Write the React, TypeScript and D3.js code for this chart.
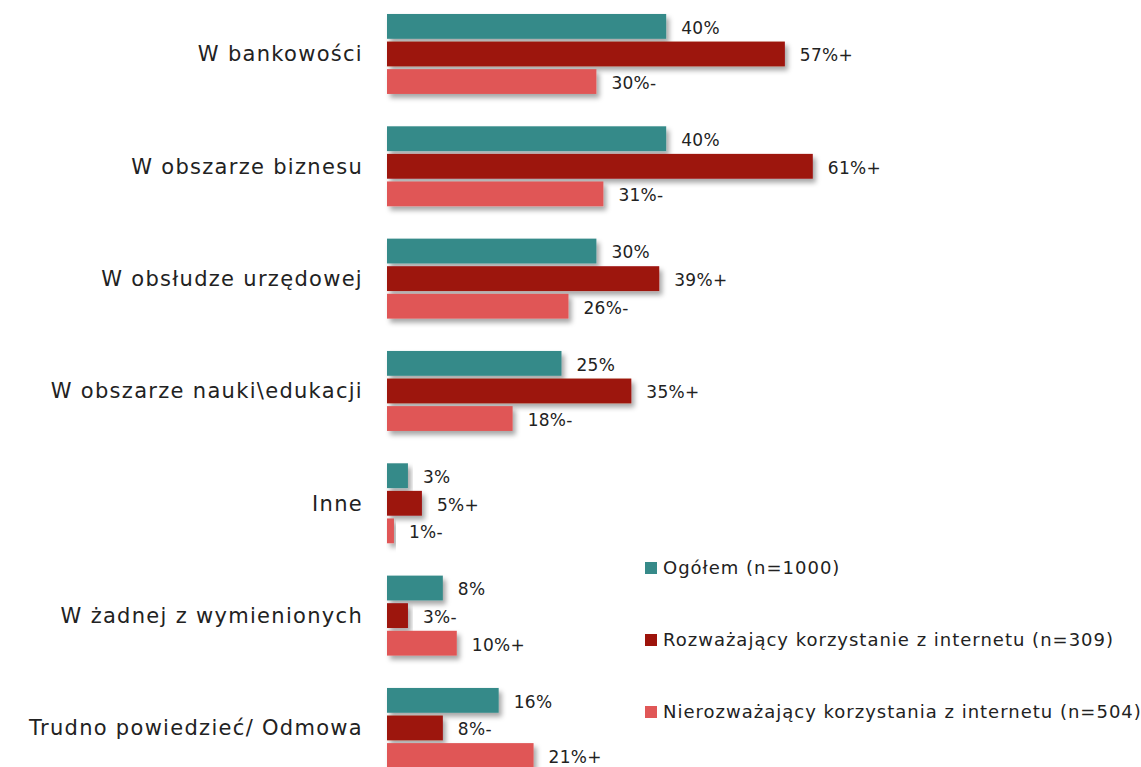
import React, { useEffect, useRef } from "react";
import * as d3 from "d3";

const categories = [
  "W bankowości",
  "W obszarze biznesu",
  "W obsłudze urzędowej",
  "W obszarze nauki\\edukacji",
  "Inne",
  "W żadnej z wymienionych",
  "Trudno powiedzieć/ Odmowa",
];

const seriesNames = [
  "Ogółem (n=1000)",
  "Rozważający korzystanie z internetu (n=309)",
  "Nierozważający korzystania z internetu (n=504)",
];

const ogolem = [40, 40, 30, 25, 3, 8, 16];
const rozwazajacy = [57, 61, 39, 35, 5, 3, 8];
const nierozwazajacy = [30, 31, 26, 18, 1, 10, 21];

// significance markers shown after the percentages
const ogolemMarks = ["", "", "", "", "", "", ""];
const rozwazajacyMarks = ["+", "+", "+", "+", "+", "-", "-"];
const nierozwazajacyMarks = ["-", "-", "-", "-", "-", "+", "+"];

const colors = ["#368a89", "#9d130b", "#e05757"];

const WIDTH = 1141;
const HEIGHT = 767;
const FONT = "'DejaVu Sans', sans-serif";

export default function App() {
  const ref = useRef<SVGSVGElement | null>(null);

  useEffect(() => {
    const values = [ogolem, rozwazajacy, nierozwazajacy];
    const marks = [ogolemMarks, rozwazajacyMarks, nierozwazajacyMarks];

    const root = d3.select(ref.current);
    root.selectAll("*").remove();
    root.attr("width", WIDTH).attr("height", HEIGHT);

    // soft drop shadow under the bars
    const defs = root.append("defs");
    const filter = defs
      .append("filter")
      .attr("id", "shadow")
      .attr("x", "-10%")
      .attr("y", "-30%")
      .attr("width", "130%")
      .attr("height", "190%");
    filter
      .append("feDropShadow")
      .attr("dx", 3)
      .attr("dy", 4)
      .attr("stdDeviation", 2.5)
      .attr("flood-color", "#000")
      .attr("flood-opacity", 0.35);

    const x = d3.scaleLinear().domain([0, 100]).range([387, 1085]);

    const y = d3
      .scaleBand()
      .domain(categories)
      .range([-2.2, 784.1])
      .paddingInner(0.288)
      .paddingOuter(0.144);

    const ySeries = d3
      .scaleBand()
      .domain(seriesNames)
      .range([0, y.bandwidth()])
      .paddingInner(0.1);

    const rows = categories.map((c, i) => ({
      category: c,
      bars: seriesNames.map((s, k) => ({
        series: s,
        k,
        value: values[k][i],
        label: `${values[k][i]}%${marks[k][i]}`,
      })),
    }));

    const group = root
      .selectAll(".group")
      .data(rows)
      .enter()
      .append("g")
      .attr("class", "group")
      .attr("transform", (d) => `translate(0,${y(d.category)})`);

    // Category labels
    group
      .append("text")
      .attr("x", 363)
      .attr("y", y.bandwidth() / 2)
      .attr("dy", "0.35em")
      .attr("text-anchor", "end")
      .style("font-family", FONT)
      .style("font-size", "21px")
      .style("letter-spacing", "1.3px")
      .style("fill", "#222")
      .text((d) => d.category);

    // Bars
    group
      .selectAll(".bar")
      .data((d) => d.bars)
      .enter()
      .append("rect")
      .attr("class", "bar")
      .attr("x", x(0))
      .attr("y", (d) => ySeries(d.series) ?? 0)
      .attr("width", (d) => x(d.value) - x(0))
      .attr("height", ySeries.bandwidth())
      .attr("fill", (d) => colors[d.k])
      .attr("filter", "url(#shadow)");

    // Value labels
    group
      .selectAll(".val")
      .data((d) => d.bars)
      .enter()
      .append("text")
      .attr("class", "val")
      .attr("x", (d) => x(d.value) + 15)
      .attr("y", (d) => (ySeries(d.series) ?? 0) + ySeries.bandwidth() / 2 + 1.5)
      .attr("dy", "0.35em")
      .style("font-family", FONT)
      .style("font-size", "17px")
      .style("letter-spacing", "0.3px")
      .style("fill", "#222")
      .text((d) => d.label);

    // Legend
    const legend = root
      .append("g")
      .selectAll("g")
      .data(seriesNames)
      .enter()
      .append("g")
      .attr("transform", (_, i) => `translate(645,${568 + i * 72})`);

    legend
      .append("rect")
      .attr("x", 0)
      .attr("y", -6)
      .attr("width", 12)
      .attr("height", 12)
      .attr("fill", (_, i) => colors[i]);

    legend
      .append("text")
      .attr("x", 18)
      .attr("y", 0)
      .attr("dy", "0.35em")
      .style("font-family", FONT)
      .style("font-size", "18px")
      .style("letter-spacing", "1px")
      .style("fill", "#222")
      .text((d) => d);
  }, []);

  return (
    <svg
      ref={ref}
      style={{ position: "absolute", left: 0, top: 0, background: "#fff" }}
    ></svg>
  );
}
